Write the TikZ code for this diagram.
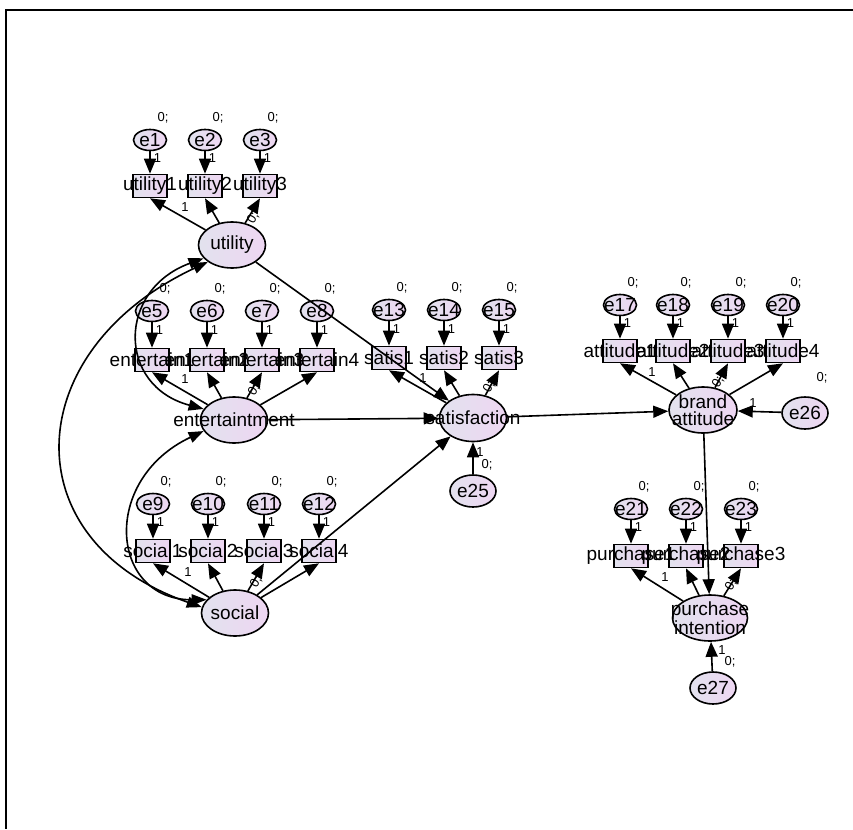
\documentclass[tikz,border=0pt]{standalone}
\usepackage{fontspec}
\setmainfont{Liberation Sans}
\usetikzlibrary{arrows.meta,shapes.geometric}
\definecolor{fillL}{RGB}{226,226,238}
\definecolor{fillR}{RGB}{238,214,242}
\begin{document}
\begin{tikzpicture}[x=1pt,y=-1pt,
  every node/.style={inner sep=0pt},
  mfill/.style={left color=fillL,right color=fillR,draw=black,line width=1.6pt},
  obox/.style={mfill, rectangle, minimum width=34pt, minimum height=23pt},
  errv/.style={mfill, ellipse, minimum width=33pt, minimum height=21pt},
  errb/.style={mfill, ellipse, minimum width=46pt, minimum height=32pt},
  lat/.style={mfill, ellipse, minimum width=67pt, minimum height=46pt},
  txt/.style={font=\fontsize{19}{17}\selectfont, align=center},
  sml/.style={font=\fontsize{13}{14}\selectfont},
  reg/.style={draw, line width=1.6pt, -{Triangle[length=15pt,width=12pt]}},
  cov/.style={draw, line width=1.6pt, {Triangle[length=15pt,width=11pt]}-{Triangle[length=15pt,width=11pt]}},
]
\useasboundingbox (0,0) rectangle (853,829);
\draw[line width=2.2pt] (853,10) -- (6,10) -- (6,829);

% ---------- shapes ----------
\node[lat] (util) at (232,245) {};
\node[lat] (ent) at (234,420) {};
\node[lat] (soc) at (235,613) {};
\node[lat, minimum height=47pt] (sat) at (473,418) {};
\node[lat, minimum width=68pt] (ba) at (703,410) {};
\node[lat, minimum width=75pt] (pi) at (710,618) {};
\node[errb] (e25) at (473,491) {};
\node[errb] (e26) at (805,413) {};
\node[errb] (e27) at (713,688) {};

\foreach \e/\b/\x in {1/u1/150,2/u2/205,3/u3/260}{\node[errv] (e\e) at (\x,140) {}; \node[obox] (\b) at (\x,186) {};}
\foreach \e/\b/\x in {5/n1/152,6/n2/207,7/n3/262,8/n4/317}{\node[errv] (e\e) at (\x,311) {}; \node[obox] (\b) at (\x,360) {};}
\foreach \e/\b/\x in {9/s1/153,10/s2/208,11/s3/264,12/s4/319}{\node[errv] (e\e) at (\x,504) {}; \node[obox] (\b) at (\x,551) {};}
\foreach \e/\b/\x in {13/t1/389,14/t2/444,15/t3/499}{\node[errv] (e\e) at (\x,310) {}; \node[obox] (\b) at (\x,358) {};}
\foreach \e/\b/\x in {17/a1/620,18/a2/673,19/a3/728,20/a4/783}{\node[errv] (e\e) at (\x,305) {}; \node[obox] (\b) at (\x,351) {};}
\foreach \e/\b/\x in {21/p1/631,22/p2/686,23/p3/741}{\node[errv] (e\e) at (\x,509) {}; \node[obox] (\b) at (\x,556) {};}

% ---------- connectors ----------
\foreach \e/\b in {1/u1,2/u2,3/u3,5/n1,6/n2,7/n3,8/n4,9/s1,10/s2,11/s3,12/s4,13/t1,14/t2,15/t3,17/a1,18/a2,19/a3,20/a4,21/p1,22/p2,23/p3}
  \draw[reg] (e\e) -- (\b) node[sml, pos=0.3, right=3pt] (one\e) {1};

\foreach \b in {u1,u2,u3} \draw[reg] (util) -- (\b.south);
\foreach \b in {n1,n2,n3,n4} \draw[reg] (ent) -- (\b.south);
\foreach \b in {s1,s2,s3,s4} \draw[reg] (soc) -- (\b.south);
\foreach \b in {t1,t2,t3} \draw[reg] (sat) -- (\b.south);
\foreach \b in {a1,a2,a3,a4} \draw[reg] (ba) -- (\b.south);
\foreach \b in {p1,p2,p3} \draw[reg] (pi) -- (\b.south);

\draw[reg] (util) -- (sat);
\draw[reg] (ent) -- (sat);
\draw[reg] (soc) -- (sat);
\draw[reg] (sat) -- (ba);
\draw[reg] (ba) -- (pi);
\draw[reg] (e25) -- (sat);
\draw[reg] (e26) -- (ba);
\draw[reg] (e27) -- (pi);

\draw[cov] (util.205) .. controls (117,290) and (117,386) .. (ent.160);
\draw[cov] (ent.200) .. controls (100,480) and (110,600) .. (soc.155);
\draw[cov] (util.215) .. controls (20,350) and (10,540) .. (soc.170);

% ---------- texts ----------
\node[txt] (util-t) at (util) {utility};
\node[txt] (ent-t) at (ent) {entertaintment};
\node[txt] (soc-t) at (soc) {social};
\node[txt] (sat-t) at (sat) {satisfaction};
\node[txt] (ba-t) at (ba) {brand\\attitude};
\node[txt] (pi-t) at (pi) {purchase\\intention};

\foreach \b/\t in {u1/utility1,u2/utility2,u3/utility3,n1/entertain1,n2/entertain2,n3/entertain3,n4/entertain4,s1/social1,s2/social2,s3/social3,s4/social4,t1/satis1,t2/satis2,t3/satis3,a1/attitude1,a2/attitude2,a3/attitude3,a4/attitude4,p1/purchase1,p2/purchase2,p3/purchase3}
  \node[txt] (\b-t) at (\b) {\t};

\foreach \e in {1,2,3,5,6,7,8,9,10,11,12,13,14,15,17,18,19,20,21,22,23,25,26,27}
  \node[txt] (e\e-t) at (e\e) {e\e};

% zero labels above error terms
\foreach \e in {1,2,3,5,6,7,8,9,10,11,12,13,14,15,17,18,19,20,21,22,23}
  \node[sml] (z\e) at ([xshift=13pt,yshift=22pt]e\e.center) {0;};
\node[sml] (z25) at (487,465) {0;};
\node[sml] (z26) at (822,378) {0;};
\node[sml] (z27) at (730,662) {0;};

% regression weight labels
\node[sml] (w1) at (185,207) {1};
\node[sml] (w2) at (185,379) {1};
\node[sml] (w3) at (188,572) {1};
\node[sml] (w4) at (423,378) {1};
\node[sml] (w5) at (652,372) {1};
\node[sml] (w6) at (665,577) {1};
\node[sml] (w25) at (480,452) {1};
\node[sml] (w26) at (753,403) {1};
\node[sml] (w27) at (722,650) {1};

% intercept labels on third indicators
\foreach \n/\x/\y in {1/253/218,2/254/390,3/256/582,4/489/387,5/718/382,6/731/585}
  \node[sml, rotate=60] (r\n) at (\x,\y) {0;};
\end{tikzpicture}
\end{document}
